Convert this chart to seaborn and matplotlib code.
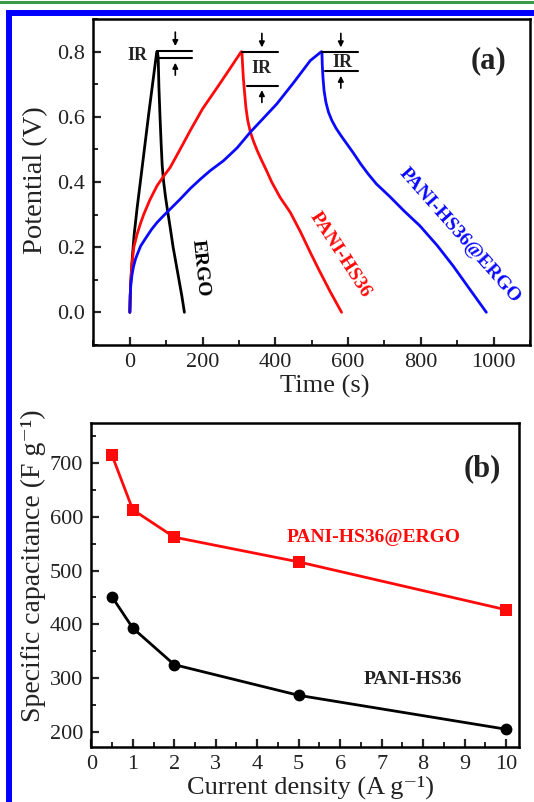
import matplotlib
matplotlib.use("Agg")
import matplotlib.pyplot as plt
from matplotlib.lines import Line2D
from matplotlib.ticker import MultipleLocator, FormatStrFormatter
import seaborn as sns
import pandas as pd

# (a) galvanostatic charge/discharge curves
ergo_t = [0, 1, 2, 4, 7, 12, 20, 30, 41, 52, 63, 74, 76,
          78, 80, 83, 86, 89, 93, 98, 104, 111, 119, 127, 135, 143, 150]
ergo_v = [0, 0.04, 0.08, 0.12, 0.17, 0.24, 0.32, 0.41, 0.51, 0.61, 0.705, 0.80, 0.80,
          0.78, 0.69, 0.60, 0.52, 0.45, 0.40, 0.355, 0.31, 0.26, 0.20, 0.15, 0.10, 0.05, 0.0]

hs36_t = [0, 1, 3, 6, 11, 20, 30, 38, 55, 75, 93, 111, 138, 166, 200, 240, 275, 306, 308,
          310, 312, 315, 319, 324, 331, 340, 350, 360, 375, 390, 413, 441, 470, 496, 520, 550, 582]
hs36_v = [0, 0.05, 0.10, 0.15, 0.20, 0.24, 0.275, 0.30, 0.345, 0.389, 0.418, 0.445, 0.50, 0.558,
          0.625, 0.69, 0.748, 0.80, 0.80,
          0.76, 0.72, 0.68, 0.63, 0.59, 0.555, 0.525, 0.497, 0.472, 0.437, 0.40, 0.353, 0.307,
          0.245, 0.184, 0.13, 0.065, 0.0]

comp_t = [0, 1, 3, 6, 10, 16, 23, 30, 45, 60, 75, 93, 111, 138, 166, 195, 221, 258, 295, 331,
          368, 404, 450, 496, 526, 528,
          529, 531, 534, 539, 546, 555, 567, 582, 598, 614, 635, 655, 678, 715, 755, 797, 845,
          889, 935, 980]
comp_v = [0, 0.05, 0.09, 0.115, 0.14, 0.165, 0.185, 0.204, 0.23, 0.255, 0.276, 0.297, 0.317,
          0.347, 0.38, 0.41, 0.435, 0.466, 0.505, 0.553, 0.597, 0.64, 0.705, 0.773, 0.80, 0.80,
          0.76, 0.72, 0.68, 0.645, 0.615, 0.59, 0.565, 0.54, 0.515, 0.49, 0.455, 0.425, 0.394,
          0.355, 0.31, 0.266, 0.205, 0.142, 0.07, 0.0]

# (b) specific capacitance vs current density
current = [0.5, 1, 2, 5, 10]
cap_comp = [714, 613, 562, 516, 427]
cap_hs36 = [451, 393, 325, 268, 205]

sns.set_style("white")
plt.rcParams["font.family"] = ["Liberation Serif", "DejaVu Serif"]

RED = "#ff0a0a"
BLUE = "#0a0aff"
TXT = "#222222"

fig = plt.figure(figsize=(5.34, 8.02), dpi=100)
ax1 = fig.add_axes([0.175, 0.570, 0.8175, 0.406])
ax2 = fig.add_axes([0.171, 0.0686, 0.800, 0.4045])


def style_axis(ax):
    for s in ax.spines.values():
        s.set_linewidth(1.8)
        s.set_color("black")
    ax.tick_params(which="major", direction="in", length=6, width=1.6, labelsize=16,
                   labelcolor=TXT, pad=6, top=False, right=False, left=True, bottom=True)
    ax.tick_params(which="minor", direction="in", length=3.5, width=1.4,
                   top=False, right=False, left=True, bottom=True)


# ---- panel (a)
for t, v, c in [(ergo_t, ergo_v, "black"), (hs36_t, hs36_v, RED), (comp_t, comp_v, BLUE)]:
    sns.lineplot(x=t, y=v, ax=ax1, sort=False, estimator=None, color=c, lw=2.0)

ax1.set_xlim(-100, 1100)
ax1.set_ylim(-0.1, 0.9)
ax1.xaxis.set_major_locator(MultipleLocator(200))
ax1.xaxis.set_minor_locator(MultipleLocator(100))
ax1.yaxis.set_major_locator(MultipleLocator(0.2))
ax1.yaxis.set_minor_locator(MultipleLocator(0.1))
ax1.yaxis.set_major_formatter(FormatStrFormatter("%.1f"))
style_axis(ax1)
ax1.set_xlabel("Time (s)", fontsize=19, color=TXT)
ax1.set_ylabel("Potential (V)", fontsize=20.5, color=TXT)
ax1.xaxis.set_label_coords(0.53, -0.093)
ax1.yaxis.set_label_coords(-0.104, 0.506)

# IR drop markers
ir_marks = [
    # (x_top_start, x_bottom_start, x_end, v_top, v_bottom, x_arrow, text_x, text_y)
    (76, 79, 172, 0.804, 0.78, 125, 20, 0.79),
    (308, 322, 408, 0.80, 0.696, 363, 363, 0.748),
    (528, 537, 628, 0.80, 0.74, 580, 583, 0.768),
]
for xt, xb, xe, vt, vb, xa, tx, ty in ir_marks:
    ax1.plot([xt, xe], [vt, vt], color="black", lw=1.5)
    ax1.plot([xb, xe], [vb, vb], color="black", lw=1.5)
    ax1.annotate("", xy=(xa, vt + 0.005), xytext=(xa, vt + 0.065),
                 arrowprops=dict(arrowstyle="-|>", color="black", lw=1.2, mutation_scale=8))
    ax1.annotate("", xy=(xa, vb - 0.005), xytext=(xa, vb - 0.06),
                 arrowprops=dict(arrowstyle="-|>", color="black", lw=1.2, mutation_scale=8))
    ax1.text(tx, ty, "IR", fontsize=13, fontweight="bold", ha="center", va="center", color=TXT)

ax1.text(985, 0.773, "(a)", fontsize=22, fontweight="bold", ha="center", va="center", color=TXT)
ax1.text(194, 0.137, "ERGO", fontsize=14, fontweight="bold", rotation=-84,
         ha="center", va="center", rotation_mode="anchor", color="black")
ax1.text(578, 0.178, "PANI-HS36", fontsize=14, fontweight="bold", rotation=-57,
         ha="center", va="center", rotation_mode="anchor", color=RED)
ax1.text(907, 0.237, "PANI-HS36@ERGO", fontsize=14, fontweight="bold", rotation=-48.5,
         ha="center", va="center", rotation_mode="anchor", color=BLUE)

# ---- panel (b)
df = pd.DataFrame({"current": current * 2,
                   "cap": cap_comp + cap_hs36,
                   "sample": ["PANI-HS36@ERGO"] * 5 + ["PANI-HS36"] * 5})
sns.lineplot(data=df, x="current", y="cap", hue="sample", style="sample",
             palette={"PANI-HS36@ERGO": RED, "PANI-HS36": "black"},
             markers={"PANI-HS36@ERGO": "s", "PANI-HS36": "o"},
             dashes=False, lw=2.0, markersize=8.5, markeredgewidth=0,
             ax=ax2, legend=False)
ax2.set_xlim(0, 10.3)
ax2.set_ylim(172, 775)
ax2.xaxis.set_major_locator(MultipleLocator(1))
ax2.xaxis.set_minor_locator(MultipleLocator(0.5))
ax2.yaxis.set_major_locator(MultipleLocator(100))
ax2.yaxis.set_minor_locator(MultipleLocator(50))
style_axis(ax2)
ax2.set_xlabel("Current density (A g\u207b\u00b9)", fontsize=19, color=TXT)
ax2.set_ylabel("Specific capacitance (F g\u207b\u00b9)", fontsize=20, color=TXT)
ax2.xaxis.set_label_coords(0.512, -0.088)
ax2.yaxis.set_label_coords(-0.106, 0.56)

ax2.text(9.42, 690, "(b)", fontsize=22, fontweight="bold", ha="center", va="center", color=TXT)
ax2.text(6.8, 561, "PANI-HS36@ERGO", fontsize=14, fontweight="bold", ha="center", va="center", color=RED)
ax2.text(7.74, 297, "PANI-HS36", fontsize=14, fontweight="bold", ha="center", va="center", color=TXT)

# page frame: green rule on top, blue box edge
fig.add_artist(Line2D([0, 1], [1 - 1.5 / 802, 1 - 1.5 / 802], transform=fig.transFigure,
                      color="#3a9a48", lw=2.2))
fig.add_artist(Line2D([9 / 534, 9 / 534, 1.01], [-0.01, 1 - 13 / 802, 1 - 13 / 802],
                      transform=fig.transFigure, color="#0000ff", lw=4.3, solid_joinstyle="miter"))

fig.savefig("out.png", dpi=100)
